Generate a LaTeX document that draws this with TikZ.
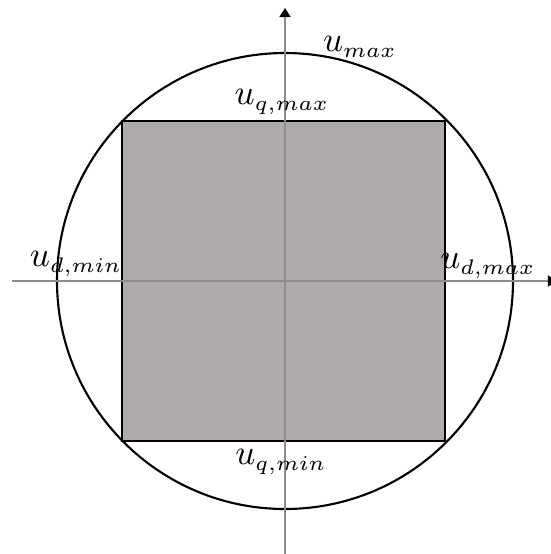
\documentclass[tikz,border=0pt]{standalone}
\usetikzlibrary{arrows.meta,positioning}
\DeclareMathSizes{10}{10}{6.5}{5}
\definecolor{axisgray}{HTML}{8C8C8C}
\definecolor{regiongray}{HTML}{AEAAAA}
\tikzset{
  axis/.style={draw=axisgray,line width=0.4pt,
               -{Triangle[length=0.9mm,width=1.1mm,color=black]}},
  limit/.style={draw=black,line width=0.6pt},
  region/.style={limit,fill=regiongray},
  lbl/.style={font=\normalsize,inner sep=0pt}
}
\begin{document}
\begin{tikzpicture}[x=0.01cm,y=-0.01cm]
  \useasboundingbox (0,0) rectangle (550,554);
  \coordinate (o) at (285,281);
  % voltage limit circle and box
  \draw[limit] (o) circle[radius=228];
  \draw[region] (122,121) rectangle (445,441);
  % axes
  \coordinate (xl) at (12,281);
  \coordinate (xr) at (557,281);
  \coordinate (yb) at (285,556);
  \coordinate (yt) at (285,8);
  \draw[axis] (xl) -- (xr);
  \draw[axis] (yb) -- (yt);
  % labels
  \node[lbl] (umax) at (360,47) {$u_{max}$};
  \node[lbl] (uqmax) at (282,102) {$u_{q,max}$};
  \node[lbl] (uqmin) at (281,462) {$u_{q,min}$};
  \node[lbl] (udmin) at (76,264) {$u_{d,min}$};
  \node[lbl] (udmax) at (488,266) {$u_{d,max}$};
\end{tikzpicture}
\end{document}
